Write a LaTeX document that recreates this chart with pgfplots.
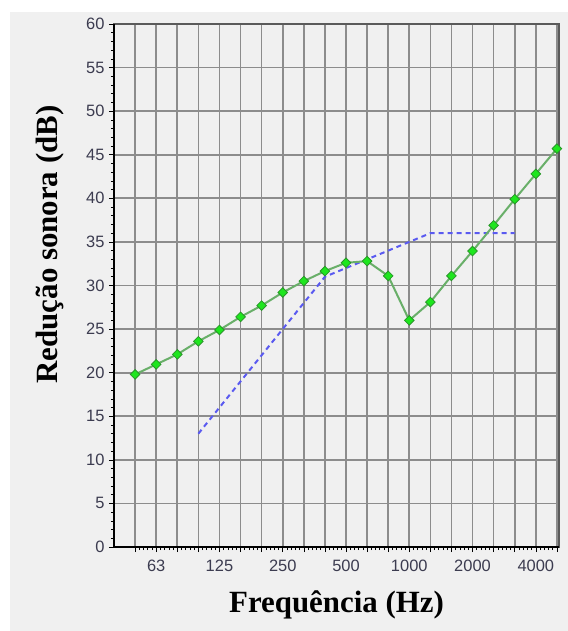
\documentclass[border=0pt]{standalone}
\usepackage{fontspec}
\setmainfont{Liberation Serif}
\newfontfamily\arial{Liberation Sans}
\usepackage{pgfplots}
\pgfplotsset{compat=1.18}

\definecolor{bggray}{RGB}{240,240,240}
\definecolor{gridgray}{RGB}{140,140,140}
\definecolor{framegray}{RGB}{90,90,90}
\definecolor{ticktext}{RGB}{60,60,80}
\definecolor{lineg}{RGB}{105,175,105}
\definecolor{markg}{RGB}{30,230,30}
\definecolor{markedge}{RGB}{40,150,40}
\definecolor{refblue}{RGB}{90,90,240}

% third-octave bands: index 0 = 50 Hz ... 20 = 5000 Hz
\pgfplotstableread{
idx R
0  19.8
1  20.95
2  22.1
3  23.6
4  24.9
5  26.4
6  27.7
7  29.2
8  30.5
9  31.65
10 32.6
11 32.8
12 31.1
13 26.0
14 28.1
15 31.1
16 33.95
17 36.9
18 39.9
19 42.8
20 45.7
}\measured

% ISO 717-1 reference curve (shifted)
\pgfplotstableread{
idx R
3  13
4  16
5  19
6  22
7  25
8  28
9  31
10 32
11 33
12 34
13 35
14 36
15 36
16 36
17 36
18 36
}\reference

\begin{document}
\begin{tikzpicture}
\fill[white] (-114bp,-84bp) rectangle (454bp,547bp);
\fill[bggray] (-104bp,-84bp) rectangle (454bp,535bp);
\begin{axis}[
    at={(0,0)}, anchor=south west,
    scale only axis,
    width=445bp, height=523bp,
    xmin=-1, xmax=20.1,
    ymin=0, ymax=60,
    xtick={0,...,20},
    xticklabels={,63,,,125,,,250,,,500,,,1000,,,2000,,,4000,},
    ytick={0,5,...,60},
    minor x tick num=4,
    minor y tick num=4,
    tick pos=left,
    tick align=outside,
    major tick length=5bp,
    minor tick length=3bp,
    tick style={black, line width=0.6bp},
    grid=major,
    major grid style={gridgray, line width=1.7bp},
    axis line style={framegray, line width=1.5bp},
    /pgf/number format/assume math mode=true,
    tick label style={font=\arial\fontsize{16.5}{17}\selectfont, text=ticktext},
    xticklabel style={yshift=-5bp},
    yticklabel style={xshift=-1bp},
    xlabel={Frequência (Hz)},
    ylabel={Redução sonora (dB)},
    label style={font=\fontsize{31}{31}\selectfont\bfseries},
    xlabel style={at={([yshift=-58bp]axis description cs:0.5,0)}, anchor=center},
    ylabel style={at={([xshift=-64bp, yshift=41bp]axis description cs:0,0.5)}, anchor=center},
    after end axis/.code={
      \draw[black, line width=2.6bp] (rel axis cs:0,1) -- (rel axis cs:0,0) -- (rel axis cs:1,0);
    },
]
\addplot[refblue, line width=2bp, dash pattern=on 5bp off 4bp] table[x=idx, y=R] {\reference};
\addplot[lineg, line width=2bp, mark=square*, mark size=3.4bp,
    mark options={rotate=45, fill=markg, draw=markedge, line width=0.8bp, solid}] table[x=idx, y=R] {\measured};
\end{axis}
\pgfresetboundingbox
\path (-114bp,-84bp) rectangle (454bp,547bp);
\end{tikzpicture}
\end{document}
